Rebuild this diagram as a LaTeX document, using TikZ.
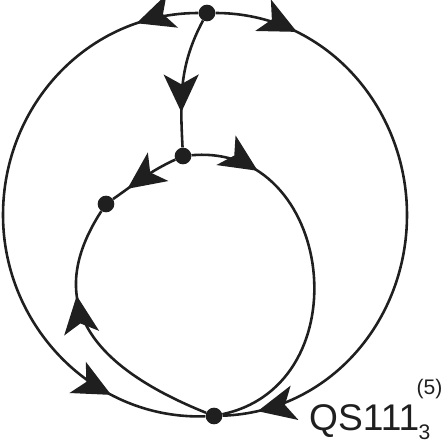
\documentclass[tikz,border=0pt]{standalone}
\usepackage{fontspec}
\setmainfont{Liberation Sans}
\usetikzlibrary{arrows.meta, decorations.markings}

\tikzset{
  flow/.tip={Stealth[length=1.13cm, width=1.05cm, inset=0.29cm]},
  vertex/.style={circle, fill=black!88, inner sep=0pt, minimum size=0.5cm},
  orbit/.style={line width=2.2pt, draw=black!88, fill=none},
  arrowat/.style={postaction={decorate, decoration={markings, mark=at position #1 with {\arrow[black!88]{flow}}}}},
}

\begin{document}
\begin{tikzpicture}[x=0.03cm, y=0.03cm]
  \useasboundingbox (0,0) rectangle (443,444);

  % equilibria
  \node[vertex] (T) at (207,431) {};
  \node[vertex] (M) at (183,288) {};
  \node[vertex] (L) at (106,240) {};
  \node[vertex] (B) at (214,28) {};
  \coordinate (W) at (3,229);
  \coordinate (E) at (407,229);

  % outer separatrices
  \draw[orbit, arrowat=0.10, arrowat=0.845] (T) to[out=180,in=90] (W) to[out=-90,in=182] (B);
  \draw[orbit, arrowat=0.138, arrowat=0.942] (T) to[out=0,in=90] (E) to[out=-90,in=2] (B);

  % inner loop
  \draw[orbit, arrowat=0.73] (T) to[out=-118,in=93] (M);
  \draw[orbit, arrowat=0.76] (M) to[out=205,in=35] (L);
  \draw[orbit, arrowat=0.185] (M) to[out=5,in=12,looseness=1.41] (B);
  \draw[orbit, arrowat=0.67] (B) to[out=158,in=237,looseness=1.3] (L);

  \node[font=\fontsize{31.7}{34}\selectfont, anchor=base west, inner sep=0pt,
        text=black!88] (qslabel) at (309,14)
    {QS111\hspace{-0.08cm}\rlap{\raisebox{1.05cm}{\fontsize{18}{20}\selectfont(5)}}\hspace{0.06cm}\raisebox{-0.29cm}{\fontsize{18}{20}\selectfont 3}};
\end{tikzpicture}
\end{document}
